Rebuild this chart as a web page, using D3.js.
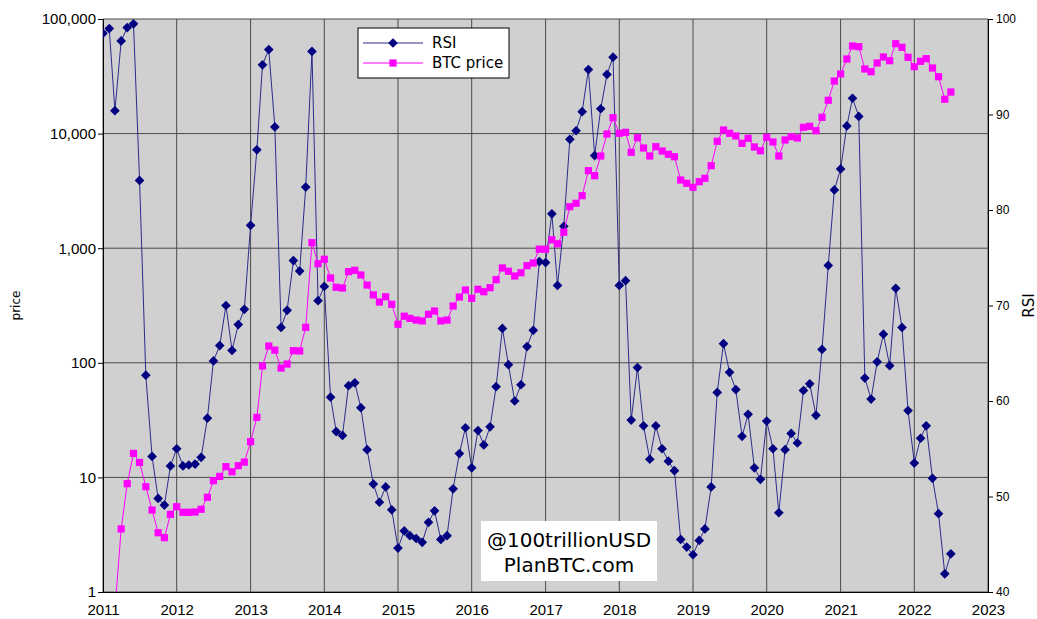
<!DOCTYPE html>
<html>
<head>
<meta charset="utf-8">
<script src="https://cdn.jsdelivr.net/npm/d3@7"></script>
<style>
  body { margin: 0; background: #fff; }
  svg { font-family: "DejaVu Sans", sans-serif; display: block; }
</style>
</head>
<body>
<div id="chart"></div>
<script>
// monthly values, Jan 2011 .. Jul 2022
const rsi = [
  98.5, 99.0, 90.4, 97.7, 99.1, 99.5, 83.1, 62.7, 54.2, 49.8, 49.1, 53.2,
  55.0, 53.2, 53.3, 53.4, 54.1, 58.2, 64.2, 65.8, 70.0, 65.3, 68.0, 69.6,
  78.4, 86.3, 95.2, 96.8, 88.7, 67.7, 69.5, 74.7, 73.6, 82.4, 96.6, 70.5,
  72.0, 60.4, 56.8, 56.4, 61.6, 61.9, 59.3, 54.9, 51.3, 49.4, 51.0, 48.6,
  44.6, 46.4, 45.9, 45.6, 45.2, 47.3, 48.5, 45.5, 45.9, 50.8, 54.5, 57.2,
  53.0, 56.9, 55.4, 57.3, 61.5, 67.6, 63.8, 60.0, 61.7, 65.7, 67.4, 74.6,
  74.5, 79.6, 72.1, 78.3, 87.4, 88.3, 90.3, 94.7, 85.7, 90.6, 94.2, 96.0,
  72.1, 72.6, 58.0, 63.5, 57.4, 53.9, 57.4, 55.0, 53.7, 52.7, 45.5, 44.7,
  43.9, 45.4, 46.6, 51.0, 60.9, 66.0, 63.0, 61.2, 56.3, 58.6, 53.0, 51.8,
  57.9, 55.0, 48.3, 54.9, 56.6, 55.6, 61.1, 61.8, 58.5, 65.4, 74.2, 82.1,
  84.3, 88.8, 91.7, 89.8, 62.4, 60.2, 64.1, 67.0, 63.7, 71.8, 67.7, 59.0,
  53.5, 56.1, 57.4, 51.9, 48.2, 41.9, 44.0
];

const btcPrice = [
  0.3, 0.87, 0.7, 3.55, 8.81, 16.2, 13.5, 8.3, 5.19, 3.29, 2.98, 4.76,
  5.55, 4.96, 4.96, 4.99, 5.27, 6.7, 9.36, 10.2, 12.4, 11.2, 12.65, 13.6,
  20.5, 33.4, 93.8, 140, 129, 90, 97.6, 127.5, 127, 204, 1117, 732,
  800, 550, 456, 449, 624, 641, 584, 477, 391, 339, 377, 324,
  217, 255, 244, 236, 232, 265, 283, 232, 236, 313, 375, 432,
  365, 438, 417, 452, 531, 672, 629, 572, 611, 704, 743, 980,
  980, 1184, 1093, 1379, 2302, 2465, 2872, 4746, 4292, 6376, 9920, 13760,
  10060, 10260, 6868, 9210, 7485, 6376, 7686, 7050, 6598, 6287, 3937, 3684,
  3400, 3805, 4072, 5248, 8566, 10750, 10060, 9530, 8230, 9100, 7640, 7093,
  9283, 8447, 6376, 8796, 9397, 9155, 11350, 11580, 10600, 13880, 19530, 28770,
  33130, 44770, 58140, 57330, 36620, 34690, 41310, 46610, 43270, 60880, 56640, 46330,
  38350, 42750, 45050, 37360, 31360, 19930, 23070
];

const priceTicks = [1, 10, 100, 1000, 10000, 100000];
const rsiTicks = [40, 50, 60, 70, 80, 90, 100];
const years = d3.range(2011, 2024);

const months = d3.timeMonth.range(new Date(2011, 0, 1), new Date(2011, rsi.length, 1));

const width = 1037, height = 619;
const margin = { left: 103, right: 49, top: 19, bottom: 27 };
const plotW = width - margin.left - margin.right;
const plotH = height - margin.top - margin.bottom;

const svg = d3.select("#chart").append("svg")
  .attr("width", width)
  .attr("height", height);

const x = d3.scaleTime()
  .domain([new Date(2011, 0, 1), new Date(2023, 0, 1)])
  .range([margin.left, margin.left + plotW]);
const yPrice = d3.scaleLog()
  .domain([1, 100000])
  .range([margin.top + plotH, margin.top]);
const yRsi = d3.scaleLinear()
  .domain([40, 100])
  .range([margin.top + plotH, margin.top]);

// plot background
svg.append("rect")
  .attr("x", margin.left).attr("y", margin.top)
  .attr("width", plotW).attr("height", plotH)
  .attr("fill", "#d0d0d0");

svg.append("clipPath").attr("id", "plotClip")
  .append("rect")
  .attr("x", margin.left).attr("y", margin.top - 6)
  .attr("width", plotW).attr("height", plotH + 6);

// grid
svg.append("g").selectAll("line")
  .data(priceTicks)
  .enter().append("line")
  .attr("x1", margin.left).attr("x2", margin.left + plotW)
  .attr("y1", d => yPrice(d)).attr("y2", d => yPrice(d))
  .attr("stroke", "#4a4a4a").attr("stroke-width", 1);
svg.append("g").selectAll("line")
  .data(years)
  .enter().append("line")
  .attr("x1", d => x(new Date(d, 0, 1))).attr("x2", d => x(new Date(d, 0, 1)))
  .attr("y1", margin.top).attr("y2", margin.top + plotH)
  .attr("stroke", "#4a4a4a").attr("stroke-width", 1);

// axes
const leftAxis = svg.append("g")
  .attr("transform", `translate(${margin.left},0)`)
  .call(d3.axisLeft(yPrice).tickValues(priceTicks).tickFormat(d3.format(",")).tickSize(5).tickPadding(2));
leftAxis.selectAll("text").style("font-size", "15px").attr("fill", "#000");

const rightAxis = svg.append("g")
  .attr("transform", `translate(${margin.left + plotW},0)`)
  .call(d3.axisRight(yRsi).tickValues(rsiTicks).tickSize(5).tickPadding(3));
rightAxis.selectAll("text").style("font-size", "12px").attr("fill", "#000");

const bottomAxis = svg.append("g")
  .attr("transform", `translate(0,${margin.top + plotH})`)
  .call(d3.axisBottom(x).tickValues(years.map(d => new Date(d, 0, 1))).tickFormat(d3.timeFormat("%Y")).tickSize(0).tickPadding(12));
bottomAxis.selectAll("text").style("font-size", "15px").attr("fill", "#000");

svg.selectAll(".domain").attr("stroke", "#000");

// axis titles
svg.append("text")
  .attr("transform", `translate(20,${margin.top + plotH / 2}) rotate(-90)`)
  .attr("text-anchor", "middle")
  .style("font-size", "12px")
  .text("price");
svg.append("text")
  .attr("transform", `translate(1034,${margin.top + plotH / 2}) rotate(-90)`)
  .attr("text-anchor", "middle")
  .style("font-size", "15px")
  .text("RSI");

// series
const plot = svg.append("g").attr("clip-path", "url(#plotClip)");
const diamond = d3.symbol().type(d3.symbolDiamond2).size(60);
const square = d3.symbol().type(d3.symbolSquare).size(52);

const rsiLine = d3.line()
  .x((d, i) => x(months[i]))
  .y(d => yRsi(d));
plot.append("path")
  .datum(rsi)
  .attr("d", rsiLine)
  .attr("fill", "none")
  .attr("stroke", "#2b2b8c")
  .attr("stroke-width", 1);
plot.selectAll(".rsi-pt")
  .data(rsi)
  .enter().append("path")
  .attr("class", "rsi-pt")
  .attr("d", diamond)
  .attr("transform", (d, i) => `translate(${x(months[i])},${yRsi(d)})`)
  .attr("fill", "#000080");

const priceLine = d3.line()
  .x((d, i) => x(months[i]))
  .y(d => yPrice(d));
plot.append("path")
  .datum(btcPrice)
  .attr("d", priceLine)
  .attr("fill", "none")
  .attr("stroke", "#ff00ff")
  .attr("stroke-width", 1);
plot.selectAll(".btc-pt")
  .data(btcPrice)
  .enter().append("path")
  .attr("class", "btc-pt")
  .attr("d", square)
  .attr("transform", (d, i) => `translate(${x(months[i])},${yPrice(d)})`)
  .attr("fill", "#ff00ff");

// legend
const legend = svg.append("g").attr("transform", "translate(358,28)");
legend.append("rect")
  .attr("width", 151).attr("height", 50)
  .attr("fill", "#fff").attr("stroke", "#000");
const legendItems = [
  { name: "RSI", color: "#2b2b8c", fill: "#000080", sym: diamond },
  { name: "BTC price", color: "#ff00ff", fill: "#ff00ff", sym: square }
];
legendItems.forEach((d, i) => {
  const ly = 15 + i * 20;
  legend.append("line")
    .attr("x1", 5).attr("x2", 65).attr("y1", ly).attr("y2", ly)
    .attr("stroke", d.color);
  legend.append("path")
    .attr("d", d.sym)
    .attr("transform", `translate(35,${ly})`)
    .attr("fill", d.fill);
  legend.append("text")
    .attr("x", 74).attr("y", ly + 5)
    .style("font-size", "15px")
    .text(d.name);
});

// watermark
const wm = svg.append("g");
wm.append("rect")
  .attr("x", 481).attr("y", 521).attr("width", 176).attr("height", 60)
  .attr("fill", "#fff");
wm.append("text")
  .attr("x", 569).attr("y", 547)
  .attr("text-anchor", "middle")
  .style("font-size", "20px")
  .text("@100trillionUSD");
wm.append("text")
  .attr("x", 569).attr("y", 572)
  .attr("text-anchor", "middle")
  .style("font-size", "20px")
  .text("PlanBTC.com");
</script>
</body>
</html>
